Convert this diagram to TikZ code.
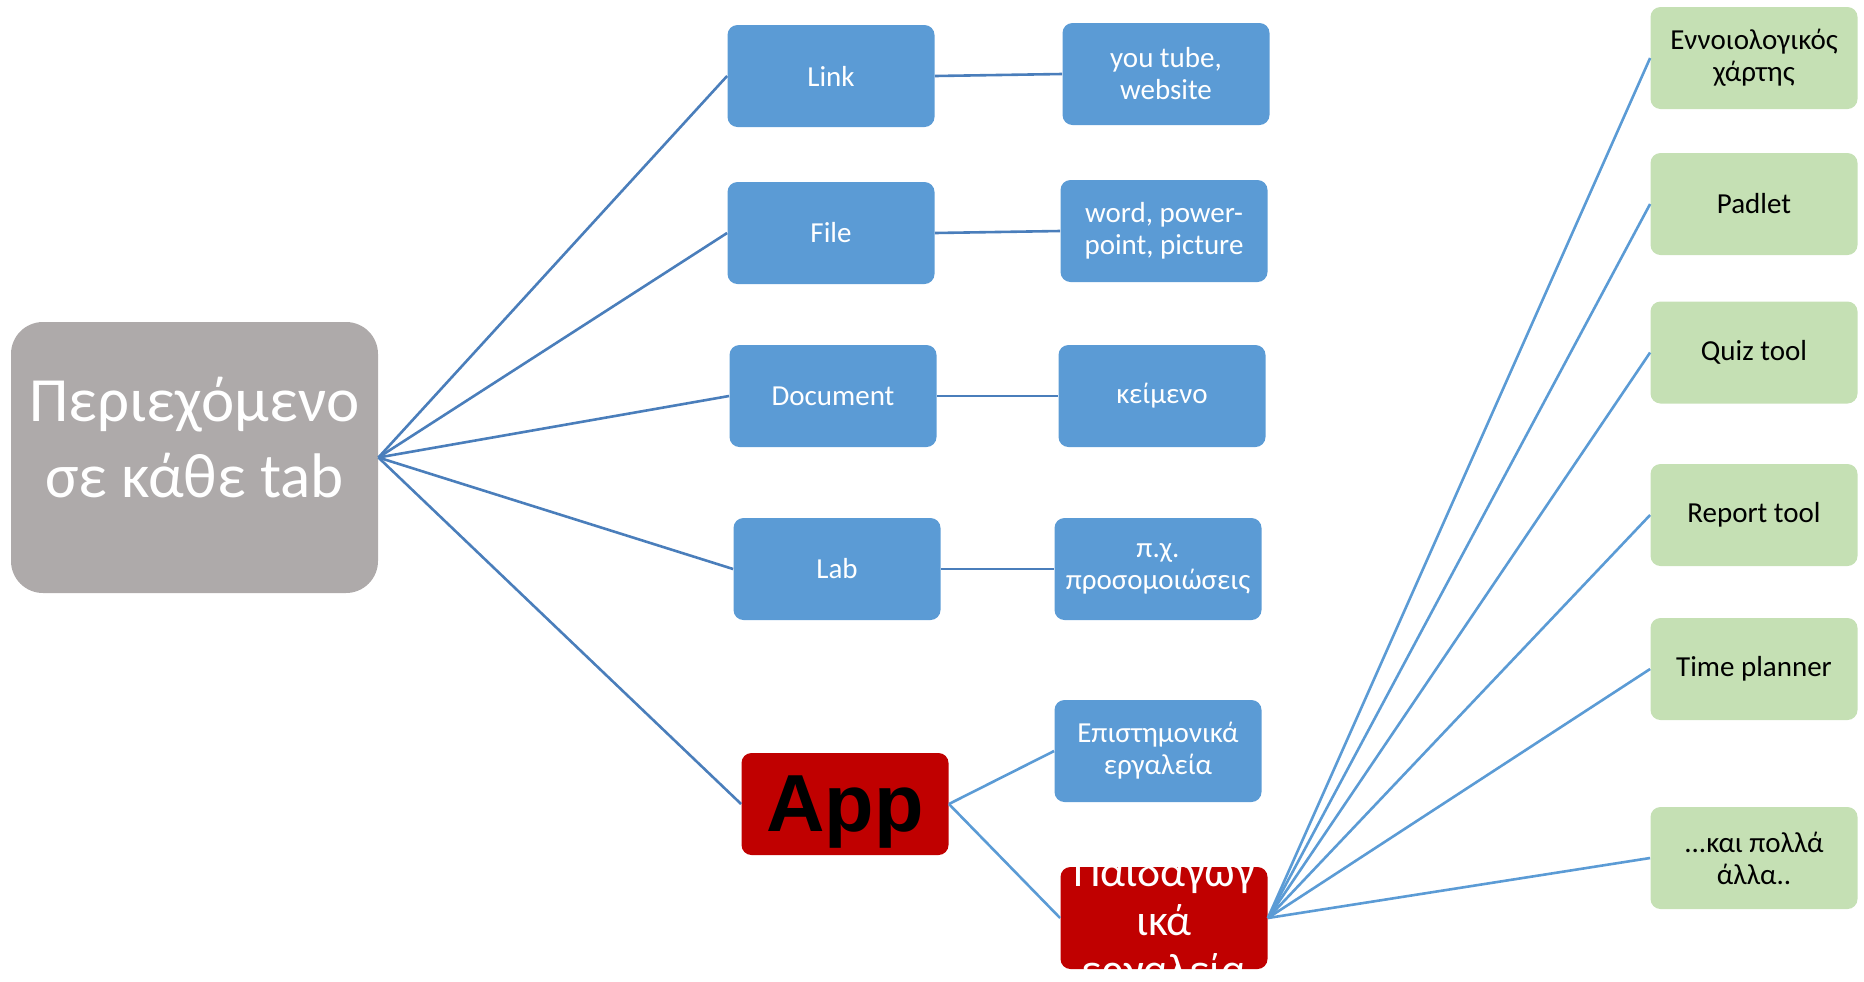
\documentclass[tikz,border=0pt]{standalone}
\usepackage{fontspec}
\setmainfont{Carlito}
\newfontfamily\appfont{Liberation Sans}
\usepackage{tikz}

\definecolor{boxblue}{HTML}{5B9BD5}
\definecolor{boxgreen}{HTML}{C5E0B4}
\definecolor{boxgray}{HTML}{AEAAAA}
\definecolor{boxred}{HTML}{C00000}
\definecolor{lineblue}{HTML}{4A7EBB}

\begin{document}
\begin{tikzpicture}[x=0.5pt, y=-0.5pt,
    box/.style={rounded corners=5pt, inner sep=0pt, align=center, minimum width=103.5pt, minimum height=51pt, font=\fontsize{14.5}{16}\selectfont},
    bluebox/.style={box, fill=boxblue, text=white},
    greenbox/.style={box, fill=boxgreen, text=black},
    conn/.style={draw=lineblue, line width=1.3pt},
    conn2/.style={draw=boxblue, line width=1.3pt}]
            \useasboundingbox (0,0) rectangle (1864,981);
            \def\colA{831}
            \def\colB{1162}
            \def\colC{1754}
            % root
            \node[rounded corners=16pt, fill=boxgray, minimum width=183.5pt, minimum height=135.5pt, inner sep=0pt] (root) at (194.5,457.5) {};
            \node[text=white, align=center, inner sep=0pt, font=\fontsize{31.5}{38}\selectfont] (roottitle) at ([yshift=10pt]root.center) {Περιεχόμενο\\σε κάθε tab};
            % first column
            \node[bluebox] (link) at (\colA,76) {Link};
            \node[bluebox] (file) at (\colA,233) {File};
            \node[bluebox] (document) at (833,396) {Document};
            \node[bluebox] (lab) at (837,569) {Lab};
            \node[box, fill=boxred, text=black, text depth=0pt, font=\appfont\bfseries\fontsize{40.5}{44}\selectfont] (app) at (845,804) {App};
            % second column
            \node[bluebox] (youtube) at (1166,74) {you tube,\\website};
            \node[bluebox] (word) at (1164,231) {word, power-\\point, picture};
            \node[bluebox] (keimeno) at (\colB,396) {κείμενο};
            \node[bluebox] (prosom) at (1158,569) {π.χ.\\προσομοιώσεις};
            \node[bluebox] (epist) at (1158,751) {Επιστημονικά\\εργαλεία};
            \begin{scope}
                \clip (1000,863) rectangle (1320,981);
                \node[box, fill=boxred] (paid) at (1164,918) {};
                \node[text=white, align=center, inner sep=0pt, font=\fontsize{22}{24.5}\selectfont] (paidtitle) at ([yshift=-3pt]paid.center) {Παιδαγωγ\\ικά\\εργαλεία};
            \end{scope}
            % third column
            \node[greenbox] (ennoio) at (\colC,58) {Εννοιολογικός\\χάρτης};
            \node[greenbox] (padlet) at (\colC,204) {Padlet};
            \node[greenbox] (quiz) at (\colC,352.5) {Quiz tool};
            \node[greenbox] (report) at (\colC,515) {Report tool};
            \node[greenbox] (planner) at (\colC,669) {Time planner};
            \node[greenbox] (more) at (\colC,858) {...και πολλά\\άλλα..};
            % connectors
            \foreach \n in {link,file,document,lab,app}
                \draw[conn] (root.east) -- (\n.west);
            \draw[conn] (link.east) -- (youtube.west);
            \draw[conn] (file.east) -- (word.west);
            \draw[conn] (document.east) -- (keimeno.west);
            \draw[conn] (lab.east) -- (prosom.west);
            \draw[conn2] (app.east) -- (epist.west);
            \draw[conn2] (app.east) -- (paid.west);
            \foreach \n in {ennoio,padlet,quiz,report,planner,more}
                \draw[conn2] (paid.east) -- (\n.west);
        \end{tikzpicture}
\end{document}
